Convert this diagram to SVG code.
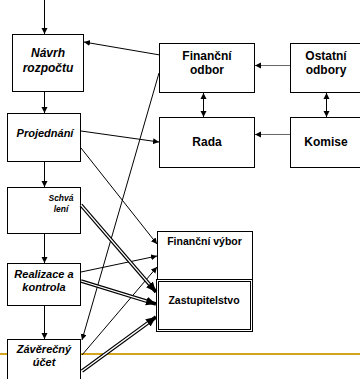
<svg xmlns="http://www.w3.org/2000/svg" width="360" height="379" viewBox="0 0 360 379">
<style>
.box{fill:#fff;stroke:#000;stroke-width:1}
.t{font-family:"Liberation Sans",Arial,sans-serif;font-weight:bold;fill:#000;text-anchor:middle}
.i{font-style:italic}
.c{fill:none;stroke:#000;stroke-width:1}
.g{fill:none;stroke:#666;stroke-width:1}
.dbl{fill:none;stroke:#000;stroke-width:3.6}
.dbw{fill:none;stroke:#fff;stroke-width:1.3}
</style>
<defs>
<marker id="a" markerUnits="userSpaceOnUse" markerWidth="8" markerHeight="8" refX="6" refY="3" orient="auto">
<path d="M0,0 L6,3 L0,6 Z" fill="#000"/>
</marker>
<marker id="as" markerUnits="userSpaceOnUse" markerWidth="8" markerHeight="8" refX="0" refY="3" orient="auto">
<path d="M6,0 L0,3 L6,6 Z" fill="#000"/>
</marker>
<marker id="ab" markerUnits="userSpaceOnUse" markerWidth="12" markerHeight="12" refX="10" refY="4.5" orient="auto">
<path d="M0,0 L10,4.5 L0,9 Z" fill="#000"/>
</marker>
</defs>
<line x1="0" y1="354" x2="360" y2="354" stroke="#D6A31C" stroke-width="2"/>
<g id="navrh"><rect class="box" x="12.5" y="34.5" width="71" height="57"/><text class="t i" font-size="12" x="48" y="57">Návrh</text><text class="t i" font-size="12" x="48" y="72">rozpočtu</text></g>
<g id="projednani"><rect class="box" x="7.5" y="113.5" width="73" height="48"/><text class="t i" font-size="11" x="45" y="137">Projednání</text></g>
<g id="schvaleni"><rect class="box" x="7.5" y="187.5" width="73" height="46"/><text class="t i" font-size="8.5" x="61" y="201">Schvá</text><text class="t i" font-size="8.5" x="61" y="212">lení</text></g>
<g id="realizace"><rect class="box" x="7.5" y="263.5" width="73" height="42"/><text class="t i" font-size="11" x="44" y="278">Realizace a</text><text class="t i" font-size="11" x="44" y="291">kontrola</text></g>
<g id="zaverecny"><rect class="box" x="7.5" y="339.5" width="73" height="45"/><text class="t i" font-size="11" x="44" y="353">Závěrečný</text><text class="t i" font-size="11" x="44" y="366">účet</text></g>
<g id="financni-odbor"><rect class="box" x="159.5" y="43.5" width="95" height="49"/><text class="t" font-size="12" x="207" y="60">Finanční</text><text class="t" font-size="12" x="207" y="74">odbor</text></g>
<g id="ostatni-odbory"><rect class="box" x="290.5" y="43.5" width="75" height="49"/><text class="t" font-size="12" x="326" y="60">Ostatní</text><text class="t" font-size="12" x="326" y="74">odbory</text></g>
<g id="rada"><rect class="box" x="159.5" y="117.5" width="95" height="50"/><text class="t" font-size="12" x="207" y="145.5">Rada</text></g>
<g id="komise"><rect class="box" x="290.5" y="117.5" width="75" height="50"/><text class="t" font-size="12" x="326" y="145.5">Komise</text></g>
<g id="financni-vybor"><rect class="box" x="157.5" y="231.5" width="95" height="49"/><text class="t" font-size="10.5" x="204.5" y="244.5">Finanční výbor</text></g>
<g id="zastupitelstvo"><rect class="box" x="156.5" y="279.5" width="96" height="52"/><rect class="box" x="158.5" y="281.5" width="92" height="48"/><text class="t" font-size="10.5" x="204" y="304">Zastupitelstvo</text></g>
<g id="connectors">
<line class="c" x1="44.5" y1="0" x2="44.5" y2="34" marker-end="url(#a)"/>
<line class="c" x1="44.5" y1="92" x2="44.5" y2="113" marker-end="url(#a)"/>
<line class="c" x1="44.5" y1="162" x2="44.5" y2="187" marker-end="url(#a)"/>
<line class="c" x1="44.5" y1="234" x2="44.5" y2="263" marker-end="url(#a)"/>
<line class="c" x1="44.5" y1="306" x2="44.5" y2="339" marker-end="url(#a)"/>
<line class="c" x1="160" y1="55" x2="84" y2="42" marker-end="url(#a)"/>
<line class="c" x1="159" y1="73" x2="82" y2="340" marker-end="url(#a)"/>
<line class="c" x1="81" y1="131" x2="159" y2="142" marker-end="url(#a)"/>
<line class="c" x1="81" y1="148" x2="157" y2="244" marker-end="url(#a)"/>
<line class="c" x1="81" y1="272" x2="157" y2="256" marker-end="url(#a)"/>
<line class="c" x1="82" y1="355" x2="157" y2="267" marker-end="url(#a)"/>
<line class="g" x1="290" y1="65.5" x2="255" y2="65.5" marker-end="url(#a)"/>
<line class="g" x1="290" y1="134.5" x2="255" y2="134.5" marker-end="url(#a)"/>
<line class="c" x1="203.5" y1="93" x2="203.5" y2="117" marker-start="url(#as)" marker-end="url(#a)"/>
<line class="c" x1="326.5" y1="93" x2="326.5" y2="117" marker-start="url(#as)" marker-end="url(#a)"/>
<line class="dbl" x1="81" y1="205" x2="156" y2="292" marker-end="url(#ab)"/>
<line class="dbw" x1="81" y1="205" x2="149.5" y2="284.4"/>
<line class="dbl" x1="81" y1="281" x2="156" y2="304" marker-end="url(#ab)"/>
<line class="dbw" x1="81" y1="281" x2="146.4" y2="301.1"/>
<line class="dbl" x1="82" y1="371" x2="156" y2="317" marker-end="url(#ab)"/>
<line class="dbw" x1="82" y1="371" x2="147.9" y2="322.9"/>
</g>
</svg>
